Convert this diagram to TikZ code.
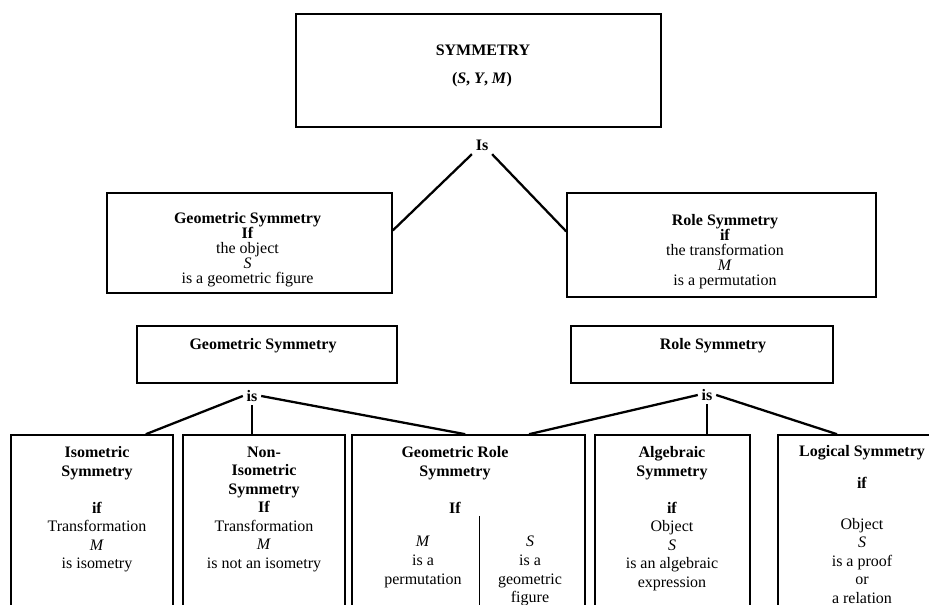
\documentclass[tikz,border=0pt]{standalone}
\usepackage{fontspec}
\setmainfont{Liberation Serif}

\begin{document}
\begin{tikzpicture}[
    box/.style={draw, line width=0.9pt, inner sep=0pt},
    txt/.style={align=center, inner sep=0pt, font=\fontsize{9.1}{10.5}\selectfont},
    tighttxt/.style={align=center, inner sep=0pt, font=\fontsize{9.1}{8.6}\selectfont},
    isnode/.style={inner sep=2pt, font=\fontsize{9.1}{10.8}\selectfont\bfseries},
    conn/.style={line width=1.3pt}
]
    \useasboundingbox (0,0) rectangle (18.58,12.10);
    \clip (0,0) rectangle (18.58,12.10);

    % Top box
    \node[box, minimum width=7.30cm, minimum height=2.26cm] (sym) at (9.57,10.69) {};
    \node[txt] (symname) at (9.66,11.10) {\textbf{SYMMETRY}};
    \node[txt] (symvars) at (9.64,10.50) {\textbf{(\textit{S}, \textit{Y}, \textit{M})}};
    \node[isnode] (istop) at (9.64,9.20) {Is};

    % Second row
    \node[box, minimum width=5.70cm, minimum height=2.00cm] (geoif) at (4.99,7.24) {};
    \node[tighttxt, anchor=north] (geoiftxt) at (4.95,7.86)
        {\textbf{Geometric Symmetry}\\\textbf{If}\\the object\\\textit{S}\\is a  geometric figure};
    \node[box, minimum width=6.18cm, minimum height=2.08cm] (roleif) at (14.43,7.20) {};
    \node[tighttxt, anchor=north] (roleiftxt) at (14.50,7.82)
        {\textbf{Role Symmetry}\\\textbf{if}\\the transformation\\\textit{M}\\is a permutation};

    \draw[conn] (istop.south west) -- (geoif.5);
    \draw[conn] (istop.south east) -- (roleif.175);

    % Third row
    \node[box, minimum width=5.20cm, minimum height=1.14cm] (geosym) at (5.34,5.01) {};
    \node[txt] (geosymtxt) at (5.26,5.18) {\textbf{Geometric Symmetry}};
    \node[box, minimum width=5.24cm, minimum height=1.14cm] (rolesym) at (14.04,5.01) {};
    \node[txt] (rolesymtxt) at (14.26,5.18) {\textbf{Role Symmetry}};
    \node[isnode] (isgeo) at (5.04,4.18) {is};
    \node[isnode] (isrole) at (14.14,4.20) {is};

    % Bottom row (boxes run past the lower edge)
    \node[box, minimum width=3.24cm, minimum height=3.70cm] (iso) at (1.84,1.55) {};
    \node[txt, anchor=north] (isotxt) at (1.94,3.17)
        {\textbf{Isometric}\\\textbf{Symmetry}\\[10.5pt]\textbf{if}\\Transformation\\\textit{M}\\is isometry};

    \node[box, minimum width=3.24cm, minimum height=3.70cm] (noniso) at (5.28,1.55) {};
    \node[txt, anchor=north] (nonisotxt) at (5.28,3.17)
        {\textbf{Non-}\\\textbf{Isometric}\\\textbf{Symmetry}\\\textbf{If}\\Transformation\\\textit{M}\\is not an isometry};

    \node[box, minimum width=4.66cm, minimum height=3.70cm] (georole) at (9.37,1.55) {};
    \node[txt, anchor=north] (georoletxt) at (9.10,3.17)
        {\textbf{Geometric Role}\\\textbf{Symmetry}\\[10.5pt]\textbf{If}};
    \node[txt, anchor=north, font=\fontsize{9.1}{10.6}\selectfont] (georoleM) at (8.46,1.38) {\textit{M}\\is a\\permutation};
    \node[txt, anchor=north, font=\fontsize{9.1}{10.6}\selectfont] (georoleS) at (10.60,1.38) {\textit{S}\\is a\\geometric\\figure};
    \draw[thin] (9.58,1.78) -- (9.58,-0.2);

    \node[box, minimum width=3.10cm, minimum height=3.70cm] (alg) at (13.45,1.55) {};
    \node[txt, anchor=north] (algtxt) at (13.44,3.17)
        {\textbf{Algebraic}\\\textbf{Symmetry}\\[10.5pt]\textbf{if}\\Object\\\textit{S}\\is an algebraic\\expression};

    \node[box, minimum width=3.36cm, minimum height=3.70cm] (logic) at (17.24,1.55) {};
    \node[txt, anchor=north] (logictxt) at (17.24,3.20)
        {\textbf{Logical Symmetry}\\[8pt]\textbf{if}\\[12.5pt]Object\\\textit{S}\\is a proof\\or\\a relation};

    \draw[conn] (isgeo.west) -- (iso.60);
    \draw[thick] (isgeo.south) -- (isgeo.south |- noniso.north);
    \draw[conn] (isgeo.east) -- (georole.92);
    \draw[conn] (isrole.west) -- (georole.57);
    \draw[thick] (isrole.south) -- (isrole.south |- alg.north);
    \draw[conn] (isrole.east) -- (logic.105);

\end{tikzpicture}
\end{document}
